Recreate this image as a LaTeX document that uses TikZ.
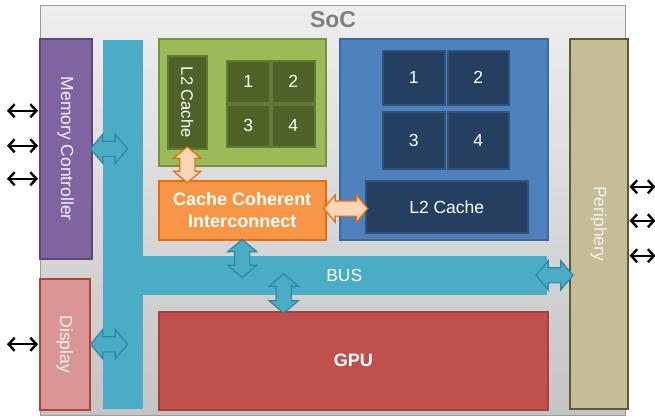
\documentclass[tikz,border=0pt]{standalone}
\usepackage{fontspec}
\setmainfont{Liberation Sans}
\usetikzlibrary{shapes.arrows,calc,arrows.meta}
\definecolor{socTop}{HTML}{EEEEEE}
\definecolor{socBot}{HTML}{C4C4C4}
\definecolor{socLine}{HTML}{9A9A9A}
\definecolor{mcFill}{HTML}{8064A2}
\definecolor{mcLine}{HTML}{5C4776}
\definecolor{dispFill}{HTML}{D99694}
\definecolor{dispLine}{HTML}{B0413E}
\definecolor{perFill}{HTML}{C4BD97}
\definecolor{perLine}{HTML}{5E5939}
\definecolor{grFill}{HTML}{9BBB59}
\definecolor{grLine}{HTML}{76923C}
\definecolor{grCore}{HTML}{4F6228}
\definecolor{grCoreLine}{HTML}{627A35}
\definecolor{blFill}{HTML}{4F81BD}
\definecolor{blLine}{HTML}{3A6AA3}
\definecolor{blCore}{HTML}{243F60}
\definecolor{blCoreLine}{HTML}{31527E}
\definecolor{cciFill}{HTML}{F79646}
\definecolor{cciLine}{HTML}{E46C0A}
\definecolor{gpuFill}{HTML}{C0504D}
\definecolor{gpuLine}{HTML}{A33F3C}
\definecolor{busFill}{HTML}{4BACC6}
\definecolor{busLine}{HTML}{2E879F}
\definecolor{peach}{HTML}{FCD5B4}
\definecolor{lightTxt}{HTML}{F2F2F2}
\definecolor{socTxt}{HTML}{7F7F7F}
\begin{document}
\begin{tikzpicture}[x=1pt,y=-1pt,
  box/.style={draw, line width=1.5pt, inner sep=0pt, anchor=north west},
  txt/.style={text=white, font=\fontsize{17.5}{20}\selectfont, inner sep=0pt},
  vtxt/.style={txt, text=lightTxt, rotate=-90},
  bold/.style={txt, font=\fontsize{18}{22}\selectfont\bfseries, align=center},
  fat/.style={double arrow, inner xsep=0pt, inner ysep=7pt, line width=1.2pt,
    double arrow head extend=7pt, double arrow tip angle=100},
  cyanarrow/.style={fat, fill=busFill, draw=busLine, minimum width=28pt},
  orangearrow/.style={fat, fill=peach, draw=cciLine, minimum width=27pt, double arrow head extend=6pt},
  ext/.style={line width=2.4pt, {Straight Barb[length=6pt,width=13pt]}-{Straight Barb[length=6pt,width=13pt]}}
]
\useasboundingbox (0,0) rectangle (655,418);
% SoC
\node[box, draw=socLine, line width=1pt, top color=socTop, bottom color=socBot,
  minimum width=585pt, minimum height=410pt] (soc) at (40,5) {};
\node[font=\fontsize{23}{26}\selectfont\bfseries, text=socTxt, inner sep=0pt] (soct) at ([yshift=-15pt]soc.north) {SoC};
% bus
\node[box, draw=none, fill=busFill, minimum width=40pt, minimum height=369pt] (busv) at (102,39) {};
\node[box, draw=none, fill=busFill, minimum width=405pt, minimum height=39pt] (bush) at (141,255) {};
\node[txt] (bust) at (bush.center) {BUS};
% memory controller
\node[box, fill=mcFill, draw=mcLine, minimum width=52pt, minimum height=220pt] (mc) at (39,38) {};
\node[vtxt] (mct) at (mc.center) {Memory Controller};
% display
\node[box, fill=dispFill, draw=dispLine, minimum width=50pt, minimum height=131pt] (disp) at (39,278) {};
\node[vtxt] (dispt) at (disp.center) {Display};
% periphery
\node[box, fill=perFill, draw=perLine, minimum width=58pt, minimum height=370pt] (per) at (569,38) {};
\node[vtxt] (pert) at (per.center) {Periphery};
% green cluster
\node[box, fill=grFill, draw=grLine, minimum width=167pt, minimum height=127pt] (gc) at (158,38) {};
\node[box, fill=grCore, draw=grCoreLine, minimum width=39pt, minimum height=93pt] (l2g) at (167,55) {};
\node[vtxt, text=white, font=\fontsize{16.5}{20}\selectfont] (l2gt) at (l2g.center) {L2 Cache};
\node[box, fill=grCore, draw=grCoreLine, minimum width=43pt, minimum height=42pt] (g1) at (226,60) {};
\node[box, fill=grCore, draw=grCoreLine, minimum width=43pt, minimum height=42pt] (g2) at (271,60) {};
\node[box, fill=grCore, draw=grCoreLine, minimum width=43pt, minimum height=42pt] (g3) at (226,104) {};
\node[box, fill=grCore, draw=grCoreLine, minimum width=43pt, minimum height=42pt] (g4) at (271,104) {};
\node[txt] at (g1.center) {1};
\node[txt] at (g2.center) {2};
\node[txt] at (g3.center) {3};
\node[txt] at (g4.center) {4};
% blue cluster
\node[box, fill=blFill, draw=blLine, minimum width=208pt, minimum height=201pt] (bc) at (339,38) {};
\node[box, fill=blCore, draw=blCoreLine, minimum width=62pt, minimum height=54pt] (b1) at (382,50) {};
\node[box, fill=blCore, draw=blCoreLine, minimum width=61pt, minimum height=54pt] (b2) at (447,50) {};
\node[box, fill=blCore, draw=blCoreLine, minimum width=62pt, minimum height=57pt] (b3) at (382,111) {};
\node[box, fill=blCore, draw=blCoreLine, minimum width=61pt, minimum height=57pt] (b4) at (447,111) {};
\node[txt] at (b1.center) {1};
\node[txt] at (b2.center) {2};
\node[txt] at (b3.center) {3};
\node[txt] at (b4.center) {4};
\node[box, fill=blCore, draw=blCoreLine, minimum width=162pt, minimum height=52pt] (l2b) at (365,180) {};
\node[txt] (l2bt) at (l2b.center) {L2 Cache};
% CCI
\node[box, fill=cciFill, draw=cciLine, minimum width=167pt, minimum height=59pt] (cci) at (158,180) {};
\node[bold] (ccit) at (cci.center) {Cache Coherent\\Interconnect};
% GPU
\node[box, fill=gpuFill, draw=gpuLine, minimum width=389pt, minimum height=98pt] (gpu) at (158,311) {};
\node[bold] (gput) at (gpu.center) {GPU};
% fat connectors
\node[cyanarrow, minimum height=37pt] (amc) at ([xshift=16.5pt]mc.east) {};
\node[cyanarrow, minimum height=37pt] (adisp) at ([xshift=18.5pt]disp.east) {};
\node[cyanarrow, minimum height=38pt, rotate=90] (acci) at ([yshift=-18pt]cci.south) {};
\node[cyanarrow, minimum height=39pt, rotate=90] (agpu) at ([xshift=-69.5pt,yshift=17.5pt]gpu.north) {};
\node[cyanarrow, minimum height=37pt] (aper) at ([xshift=-14.5pt]per.west |- bush.east) {};
\node[orangearrow, minimum height=36pt, rotate=90] (aol2) at ($(l2g.south)!0.5!(l2g.south |- cci.north)$) {};
\node[orangearrow, minimum height=44pt] (aoh) at ($(cci.east)!0.5!(l2b.west)$) {};
% external connections
\draw[ext] ([xshift=-1pt,yshift=38pt]mc.west) -- ++(-31,0);
\draw[ext] ([xshift=-1pt,yshift=3pt]mc.west) -- ++(-31,0);
\draw[ext] ([xshift=-1pt,yshift=-30pt]mc.west) -- ++(-31,0);
\draw[ext] ([xshift=-1pt]disp.west) -- ++(-31,0);
\draw[ext] ([xshift=1pt,yshift=37pt]per.east) -- ++(26,0);
\draw[ext] ([xshift=1pt,yshift=3pt]per.east) -- ++(26,0);
\draw[ext] ([xshift=1pt,yshift=-32pt]per.east) -- ++(26,0);
\end{tikzpicture}
\end{document}
